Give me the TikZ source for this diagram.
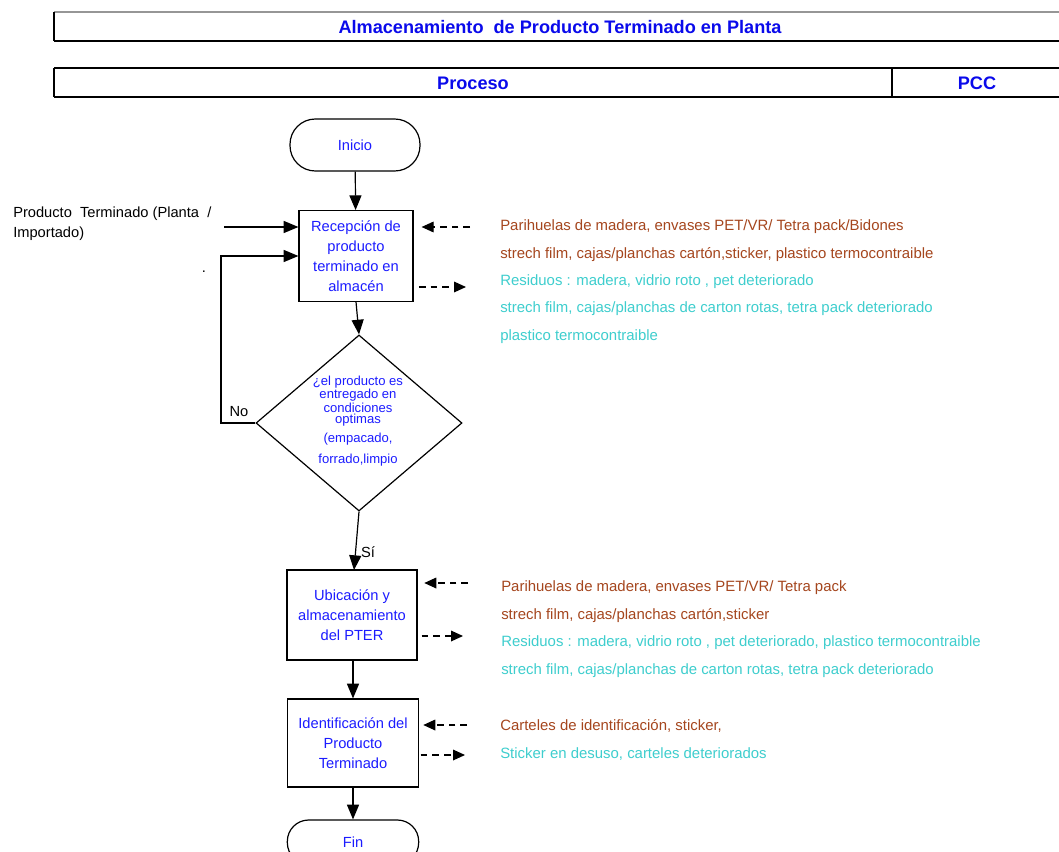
\documentclass[tikz,border=0pt]{standalone}
\usepackage{fontspec}
\setmainfont{Liberation Sans}
\usetikzlibrary{arrows.meta,shapes.geometric}

\definecolor{procblue}{RGB}{28,28,255}
\definecolor{headblue}{RGB}{10,10,235}
\definecolor{inbrown}{RGB}{165,70,30}
\definecolor{outcyan}{RGB}{62,206,206}
\definecolor{rulegray}{RGB}{150,150,150}

\tikzset{
  flow/.style={line width=0.9pt,-{Triangle[length=11pt,width=9pt]}},
  dasharrow/.style={line width=0.9pt,dash pattern=on 5pt off 3.8pt,-{Triangle[length=9pt,width=8pt]}},
  procbox/.style={draw,line width=0.9pt,rectangle,align=center,text=procblue,
    font=\fontsize{11}{15}\selectfont,inner sep=0pt},
  terminal/.style={draw,line width=0.9pt,rectangle,rounded corners=19pt,
    minimum width=97.5pt,minimum height=39pt,text=procblue,font=\fontsize{11}{13}\selectfont},
  intext/.style={anchor=base west,text=inbrown,font=\fontsize{11.2}{13}\selectfont,inner sep=0pt},
  outtext/.style={anchor=base west,text=outcyan,font=\fontsize{11.2}{13}\selectfont,inner sep=0pt},
  plain/.style={font=\fontsize{11}{15}\selectfont,inner sep=0pt},
  headtext/.style={text=headblue,font=\bfseries\fontsize{13.6}{15}\selectfont,inner sep=0pt}
}

\begin{document}
\begin{tikzpicture}[x=0.75pt,y=-0.75pt]
\clip (0,0) rectangle (1059,852);
\fill[white] (0,0) rectangle (1059,852);

% header: title strip
\draw[rulegray,line width=0.8pt] (54,12) -- (1059,12);
\draw[line width=0.9pt] (54,12) -- (54,41);
\draw[line width=1.6pt] (54,41) -- (1059,41);
\node[headtext] (title) at (560,27) {Almacenamiento\ \ de Producto Terminado en Planta};

% header: column titles
\draw[line width=1.4pt] (54,68) -- (1059,68);
\draw[line width=1.4pt] (54,97) -- (1059,97);
\draw[line width=1.2pt] (54,68) -- (54,97);
\draw[line width=1.2pt] (892,68) -- (892,97);
\node[headtext] (proceso) at (473,83) {Proceso};
\node[headtext] (pcc) at (977,83) {PCC};

% flow nodes
\node[terminal] (inicio) at (355,145) {Inicio};
\node[procbox,minimum width=85.5pt,minimum height=68pt] (recep) at (356,256)
  {Recepción de\\producto\\terminado en\\almacén};
\node[draw,line width=0.9pt,diamond,minimum width=154.5pt,minimum height=132pt,inner sep=0pt] (cond) at (359,423) {};
\node[text=procblue,align=center,inner sep=0pt,font=\fontsize{9.8}{8.3}\selectfont] (condtxt) at (358,421)
  {¿el producto es\\entregado en\\condiciones\\optimas\\[4.5pt](empacado,\\[5.2pt]forrado,limpio};
\node[procbox,minimum width=97.5pt,minimum height=67.5pt] (ubic) at (352,615)
  {Ubicación y\\almacenamiento\\del PTER};
\node[procbox,minimum width=98.5pt,minimum height=66pt] (ident) at (353,743)
  {Identificación del\\Producto\\Terminado};
\node[terminal,minimum width=98.5pt,minimum height=33pt,rounded corners=16pt] (fin) at (353,842) {Fin};

% main flow
\draw[flow] (inicio) -- (recep);
\draw[flow] (recep.south) -- (cond.north);
\draw[flow] (cond.south) -- (354,570) coordinate (ubictop);
\draw[flow] (ident.north |- ubic.south) -- (ident.north);
\draw[flow] (ident.south) -- (fin.north);

% decision labels and loop back
\node[plain] (no) at (239,412) {No};
\node[plain] (si) at (368,552) {Sí};
\coordinate (loopb) at (221,256);
\draw[flow] (cond.west) -- (cond.west -| loopb) -- (loopb) -- (recep.west |- loopb);

% external input
\node[plain,align=left,anchor=west] (pt) at (13,224) {Producto\ \ Terminado (Planta\ \ /\\Importado)};
\coordinate (ptend) at (224,227);
\draw[flow] (ptend) -- (recep.west |- ptend);
\node[plain] (dot) at (204,272) {.};

% materials in / waste out: reception
\coordinate (rin) at (470,227);
\coordinate (rout) at (466,287);
\draw[dasharrow,shorten >=6pt] (rin) -- (recep.east |- rin);
\draw[dasharrow,shorten <=4pt] (recep.east |- rout) -- (rout);
\node[intext] (r1) at (500,230) {Parihuelas de madera, envases PET/VR/ Tetra pack/Bidones};
\node[intext] (r2) at (500,258) {strech film, cajas/planchas cartón,sticker, plastico termocontraible};
\node[outtext] (r3) at (500,285) {Residuos : madera, vidrio roto , pet deteriorado};
\node[outtext] (r4) at (500,312) {strech film, cajas/planchas de carton rotas, tetra pack deteriorado};
\node[outtext] (r5) at (500,340) {plastico termocontraible};

% materials in / waste out: storage
\coordinate (uin) at (468,583);
\coordinate (uout) at (463,636);
\draw[dasharrow,shorten >=5pt] (uin) -- (ubic.east |- uin);
\draw[dasharrow,shorten <=3pt] (ubic.east |- uout) -- (uout);
\node[intext] (u1) at (501,591) {Parihuelas de madera, envases PET/VR/ Tetra pack};
\node[intext] (u2) at (501,619) {strech film, cajas/planchas cartón,sticker};
\node[outtext] (u3) at (501,646) {Residuos : madera, vidrio roto , pet deteriorado, plastico termocontraible};
\node[outtext] (u4) at (501,674) {strech film, cajas/planchas de carton rotas, tetra pack deteriorado};

% materials in / waste out: identification
\coordinate (iin) at (467,725);
\coordinate (iout) at (465,755);
\draw[dasharrow,shorten >=3pt] (iin) -- (ident.east |- iin);
\draw[dasharrow,shorten <=1pt] (ident.east |- iout) -- (iout);
\node[intext] (i1) at (500,730) {Carteles de identificación, sticker,};
\node[outtext] (i2) at (500,758) {Sticker en desuso, carteles deteriorados};
\end{tikzpicture}
\end{document}
